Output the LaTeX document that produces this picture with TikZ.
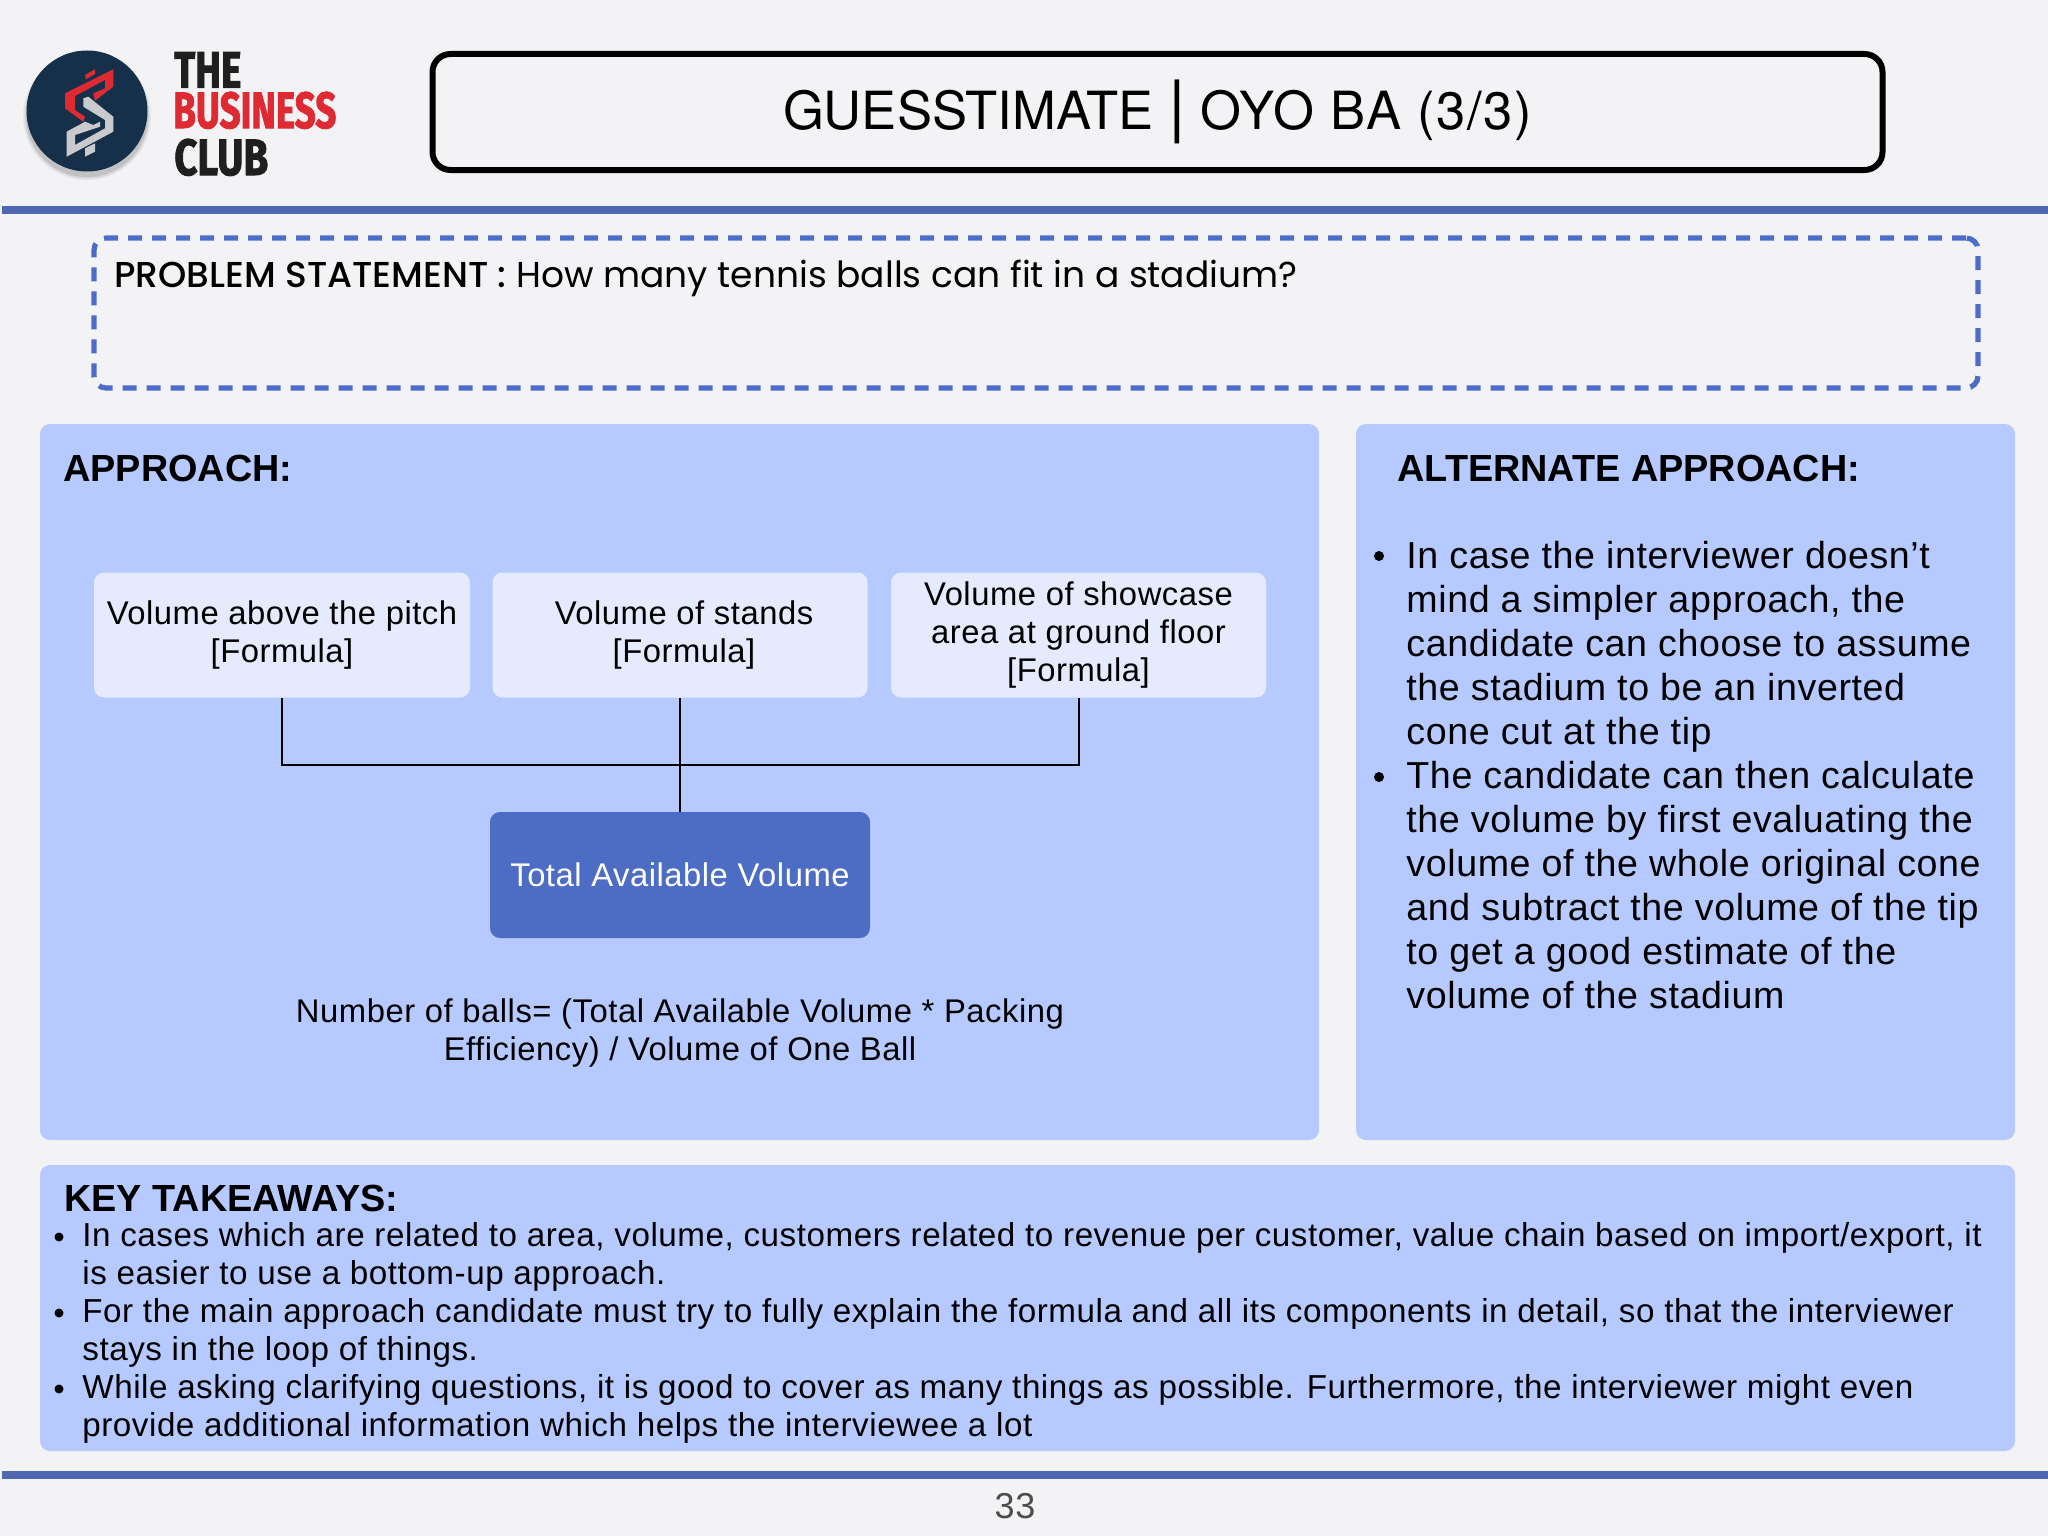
\documentclass[tikz,border=0pt]{standalone}
\usepackage{fontspec}
\setmainfont{Liberation Sans}[LetterSpace=1.6]
\newfontfamily\headfont{Liberation Sans}
\newfontfamily\logofont{Fira Sans}[BoldFeatures={FakeBold=2}]
\newfontfamily\titlefont{TeX Gyre Heros}
\newfontfamily\probfont{Poppins}
\newfontfamily\probmedfont{Poppins Medium}
\usetikzlibrary{positioning}
\definecolor{pageGray}{RGB}{243,243,246}
\definecolor{panelBlue}{RGB}{182,202,255}
\definecolor{paleBlue}{RGB}{229,235,253}
\definecolor{totalBlue}{RGB}{77,108,196}
\definecolor{ruleBlue}{RGB}{78,103,176}
\definecolor{dashBlue}{RGB}{77,108,199}
\definecolor{logoNavy}{RGB}{23,48,74}
\definecolor{logoRed}{RGB}{222,42,50}
\definecolor{logoSilver}{RGB}{200,202,205}
\tikzset{
  panel/.style={fill=panelBlue, rounded corners=5pt},
  volbox/.style={fill=paleBlue, rounded corners=5pt, align=center, font=\fontsize{16.4}{19}\selectfont, anchor=center},
  totalbox/.style={fill=totalBlue, rounded corners=5pt, align=center, text=white, font=\fontsize{16.4}{19}\selectfont},
  link/.style={draw=black, line width=1pt},
  heading/.style={anchor=base west, inner sep=0pt, font=\fontsize{18.9}{24}\selectfont\headfont\bfseries},
  bodytext/.style={anchor=north west, inner sep=0pt, align=left, font=\fontsize{18.8}{22}\selectfont},
  smalltext/.style={anchor=north west, inner sep=0pt, align=left, font=\fontsize{16.6}{19}\selectfont},
  bulletmark/.style={circle, fill=black, inner sep=0pt, minimum size=5pt},
  logoword/.style={anchor=base west, inner sep=0pt, text height=17pt, text depth=0pt, transform shape, font=\fontsize{25.5}{26}\selectfont\logofont\bfseries}
}
\begin{document}
\begin{tikzpicture}[x=0.5pt, y=-0.5pt]
  \useasboundingbox (0,0) rectangle (2048,1536);
  \fill[pageGray] (0,0) rectangle (2048,1536);

  % logo
  \foreach \r/\o in {64/0.05, 62.5/0.07, 61/0.09}
    \fill[black, opacity=\o] (87,116) circle[radius=\r];
  \node[circle, fill=logoNavy, minimum size=60.5pt, inner sep=0pt] (logo) at (87,111) {};
  \fill[logoRed] (113.3,69.3) -- (113.3,86.7) -- (95,100.7) -- (93.3,93.3) -- (105,88.3) -- (105,80) -- (75,96) -- (75,110) -- (85,116.7) -- (83.3,121.7) -- (65,108.3) -- (65,93.3) -- cycle;
  \fill[logoRed] (85,75) -- (95,69.3) -- (95,74) -- (86,79.3) -- cycle;
  \fill[logoSilver] (83.3,98.3) -- (88.3,96.7) -- (113.3,116.7) -- (113.3,131.7) -- (66.7,156.7) -- (66.7,131.7) -- (85,121.7) -- (93.3,125) -- (100,121.7) -- (100,126.7) -- (75,135) -- (75,145) -- (105,128.3) -- (105,120) -- (83.3,106.7) -- cycle;
  \fill[logoSilver] (85,148.3) -- (95,143.3) -- (95,151.7) -- (85,156.7) -- cycle;
  \node[logoword, text=black!88, xscale=0.76] (logoThe) at (174,87.5) {THE};
  \node[logoword, text=logoRed, xscale=0.72] (logoBusiness) at (173,128) {BUSINESS};
  \node[logoword, text=black!88, xscale=0.79] (logoClub) at (174,175) {CLUB};

  % title
  \node[draw=black, line width=3pt, rounded corners=9pt, minimum width=725pt, minimum height=58pt, font=\fontsize{26.3}{32}\selectfont\titlefont] (title) at (1157.5,112) {GUESSTIMATE {\fontsize{34}{34}\selectfont|} \addfontfeature{LetterSpace=3}OYO BA (3/3)};
  \fill[ruleBlue] (2,206) rectangle (2048,214);

  % problem statement
  \node[draw=dashBlue, dash pattern=on 7pt off 5pt, line width=2.6pt, rounded corners=6pt, minimum width=942pt, minimum height=75pt] (problem) at (1036,313) {};
  \node[heading, font=\fontsize{18}{22}\selectfont\probfont] (problemText) at (114,287) {{\probmedfont PROBLEM STATEMENT :} How many tennis balls can fit in a stadium?};

  % panels
  \fill[panel] (40,424) rectangle (1319,1140);
  \fill[panel] (1356,424) rectangle (2015,1140);
  \fill[panel] (40,1165) rectangle (2015,1451);
  \node[heading] (approachHead) at (63,481) {APPROACH:};
  \node[heading] (alternateHead) at (1397,481) {ALTERNATE APPROACH:};

  % volume boxes
  \node[volbox, minimum width=188pt, minimum height=62.5pt] (pitch) at (282,635) {Volume above the pitch\\{}[Formula]};
  \node[volbox, minimum width=187.5pt, minimum height=62.5pt] (stands) at (680,635) {\hspace*{4pt}Volume of stands\\\hspace*{4pt}[Formula]};
  \node[volbox, minimum width=187.5pt, minimum height=62.5pt] (showcase) at (1078.5,635) {Volume of showcase\\area at ground floor\\{}[Formula]};
  \node[totalbox, minimum width=190pt, minimum height=63pt] (total) at (680,875) {Total Available Volume};
  \coordinate (joint) at (680,765);
  \draw[link] (pitch.south) |- (joint);
  \draw[link] (showcase.south) |- (joint);
  \draw[link] (stands.south) -- (total.north);
  \node[align=center, font=\fontsize{16.4}{19}\selectfont] (formula) at (680,1033) {Number of balls= (Total Available Volume * Packing\\Efficiency) / Volume of One Ball};

  % alternate approach
  \node[bulletmark] (altDotA) at (1379,556) {};
  \node[bulletmark] (altDotB) at (1379,777) {};
  \node[bodytext] (altText) at (1406,541) {In case the interviewer doesn’t\\mind a simpler approach, the\\candidate can choose to assume\\the stadium to be an inverted\\cone cut at the tip\\The candidate can then calculate\\the volume by first evaluating the\\volume of the whole original cone\\and subtract the volume of the tip\\to get a good estimate of the\\volume of the stadium};

  % key takeaways
  \node[heading] (keyHead) at (64,1211) {KEY TAKEAWAYS:};
  \node[bulletmark, minimum size=4.5pt] (keyDotA) at (59,1237) {};
  \node[bulletmark, minimum size=4.5pt] (keyDotB) at (59,1313) {};
  \node[bulletmark, minimum size=4.5pt] (keyDotC) at (59,1389) {};
  \node[smalltext] (keyText) at (82,1222) {In cases which are related to area, volume, customers related to revenue per customer, value chain based on import/export, it\\is easier to use a bottom-up approach.\\For the main approach candidate must try to fully explain the formula and all its components in detail, so that the interviewer\\stays in the loop of things.\\While asking clarifying questions, it is good to cover as many things as possible. Furthermore, the interviewer might even\\provide additional information which helps the interviewee a lot};

  % footer
  \fill[ruleBlue] (2,1471) rectangle (2048,1479);
  \node[text=black!70, font=\fontsize{18}{22}\selectfont] (pageNum) at (1015,1506) {33};
\end{tikzpicture}
\end{document}
